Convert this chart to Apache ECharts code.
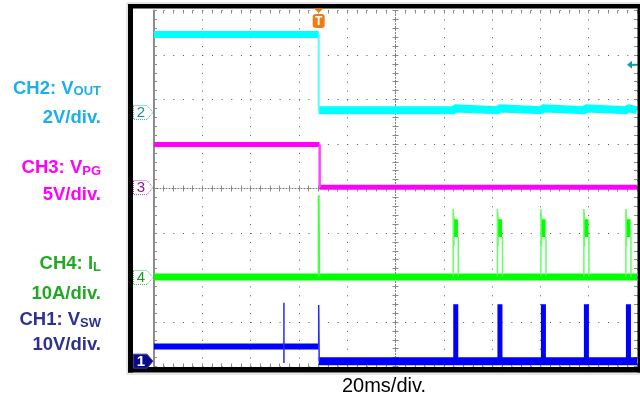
<!DOCTYPE html>
<html><head><meta charset="utf-8">
<script src="https://cdn.jsdelivr.net/npm/echarts@6/dist/echarts.min.js"></script>
<style>html,body{margin:0;padding:0;background:#fff}#c{width:640px;height:401px}</style>
</head><body><div id="c"></div>
<script>
// ---------- DATA (time in ms from screen centre, 20 ms/div; vertical in divisions from centre) ----------
const timeAxisMs = { min: -100, max: 100, step: 20 };
const vertAxisDiv = { min: -4, max: 4, step: 1 };
const triggerMs = -31.8;
const pulseStartMs = [23.9, 42.2, 60.2, 78.0, 95.4];
const pulseWidthMs = 2.1;

// CH2 VOUT (cyan)
const ch2High = [[-100, 3.46], [triggerMs, 3.46]];
const ch2Low = [[triggerMs, 1.76], [23.9, 1.76], [24.3, 1.8], [25.1, 1.8], [25.5, 1.76],
  [42.2, 1.76], [42.6, 1.8], [43.4, 1.8], [43.8, 1.76], [60.2, 1.76], [60.6, 1.8], [61.4, 1.8], [61.8, 1.76],
  [78.0, 1.76], [78.4, 1.8], [79.2, 1.8], [79.6, 1.76], [95.4, 1.76], [95.8, 1.8], [96.6, 1.8], [97.0, 1.76], [100, 1.76]];
const ch2Edge = [[triggerMs, 3.46], [triggerMs, 1.76]];

// CH3 VPG (magenta)
const ch3High = [[-100, 0.99], [-31.5, 0.99]];
const ch3Low = [[-31.5, 0.03], [100, 0.03]];
const ch3Edge = [[-31.4, 0.99], [-31.4, 0.03]];

// CH4 IL (green)
const ch4Base = [[-100, -1.99], [100, -1.99]];
const ch4TrigSpike = [[triggerMs, -1.99], [triggerMs, -0.15], [triggerMs + 0.2, -1.99]];
const ch4PulseSpikeTop = -0.46;
const ch4PulseBandTop = -0.69;
const ch4PulseBandBottom = -1.09;

// CH1 VSW (blue)
const ch1High = [[-100, -3.55], [triggerMs, -3.55]];
const ch1Low = [[triggerMs, -3.88], [100, -3.88]];
const ch1Spikes = [[[-46.2, -2.57], [-46.2, -3.92]], [[triggerMs, -3.55], [triggerMs, -2.62], [triggerMs + 0.2, -3.88]]];
const ch1PulseTop = -2.60;
const ch1PulseBottom = -3.88;

// channel ground markers and trigger level
const markerNames = ['1', '2', '3', '4'];
const markerLevelsDiv = [-3.88, 1.71, 0.02, -2.0];
const triggerLevelDiv = 2.78;

// ---------- helpers ----------
const GAP = '-';
function joinSegs(list) {
  const out = [];
  list.forEach((pl, i) => { if (i) out.push([pl[0][0], GAP]); pl.forEach(p => out.push(p)); });
  return out;
}
const ch4PulseThin = joinSegs(pulseStartMs.map(s => [[s, -1.99], [s, ch4PulseSpikeTop], [s + 0.3, ch4PulseBandTop], [s + 0.3, -1.3]])
  .concat(pulseStartMs.map(s => [[s + pulseWidthMs, ch4PulseBandBottom], [s + pulseWidthMs, -1.99]])));
const ch4PulseBlock = joinSegs(pulseStartMs.map(s => [[s + 1.15, ch4PulseBandTop], [s + 1.15, ch4PulseBandBottom]]));
const ch1PulseBlock = joinSegs(pulseStartMs.map(s => [[s + pulseWidthMs / 2, ch1PulseTop], [s + pulseWidthMs / 2, ch1PulseBottom]]));

const FONT = "'Liberation Sans', Arial, sans-serif";
const GRID_DOT = '#555';
const TICK = '#8a8a8a';

function xAx(extra) {
  return Object.assign({
    type: 'value', min: timeAxisMs.min, max: timeAxisMs.max, interval: timeAxisMs.step,
    axisLabel: { show: false }, splitLine: { show: false },
    axisTick: { show: true, inside: true, length: 3, lineStyle: { color: TICK } },
    minorTick: { show: true, splitNumber: 5, length: 3, lineStyle: { color: TICK } },
    axisLine: { show: false, onZero: false }
  }, extra);
}
function yAx(extra) {
  return Object.assign({
    type: 'value', min: vertAxisDiv.min, max: vertAxisDiv.max, interval: vertAxisDiv.step,
    axisLabel: { show: false }, splitLine: { show: false },
    axisTick: { show: true, inside: true, length: 3, lineStyle: { color: TICK } },
    minorTick: { show: true, splitNumber: 5, length: 3, lineStyle: { color: TICK } },
    axisLine: { show: false, onZero: false }
  }, extra);
}
function line(data, color, width, z) {
  return { type: 'line', data: data, showSymbol: false, symbol: 'none', silent: true, animation: false,
    connectNulls: false, lineStyle: { color: color, width: width, cap: 'butt', join: 'miter' }, z: z || 3 };
}

const chart = echarts.init(document.getElementById('c'), null, { renderer: 'canvas', width: 640, height: 401 });
chart.setOption({
  animation: false,
  backgroundColor: '#ffffff',
  grid: { left: 154, top: 10.5, width: 483, height: 356, show: false },
  xAxis: [
    xAx({ position: 'bottom', splitLine: { show: true, lineStyle: { color: GRID_DOT, width: 1, type: [1, 7.9] } } }),
    xAx({ position: 'top' }),
    xAx({ position: 'bottom', axisLine: { show: true, onZero: true, onZeroAxisIndex: 0, lineStyle: { color: '#777', width: 1, type: [1, 2] } } }),
    xAx({ position: 'bottom', axisTick: { show: true, inside: false, length: 3, lineStyle: { color: TICK } }, axisLine: { show: false, onZero: true, onZeroAxisIndex: 0 } })
  ],
  yAxis: [
    yAx({ position: 'left', axisLine: { show: true, onZero: false, lineStyle: { color: '#8c8c8c', width: 2 } },
      splitLine: { show: true, lineStyle: { color: GRID_DOT, width: 1, type: [1, 8.66] } } }),
    yAx({ position: 'right' }),
    yAx({ position: 'left', axisLine: { show: true, onZero: true, onZeroAxisIndex: 0, lineStyle: { color: '#777', width: 1, type: [1, 2] } } }),
    yAx({ position: 'left', axisTick: { show: true, inside: false, length: 3, lineStyle: { color: TICK } }, axisLine: { show: false, onZero: true, onZeroAxisIndex: 0 } })
  ],
  series: [
    line(ch1High, '#0000ff', 6),
    line(ch1Low, '#0000ff', 8),
    line(joinSegs(ch1Spikes), '#2a2aff', 1.5),
    line(ch1PulseBlock, '#0000ff', 5),
    line(ch4Base, '#00ff00', 7),
    line(ch4TrigSpike, '#44ff44', 2),
    line(ch4PulseThin, '#66ff66', 1.5),
    line(ch4PulseBlock, '#00ff00', 3.8),
    line(ch3High, '#ff00ff', 5),
    line(ch3Low, '#ff00ff', 5),
    line(ch3Edge, '#ff44ff', 2.5),
    line(ch2High, '#00ffff', 7),
    line(ch2Low, '#00ffff', 8),
    line(ch2Edge, '#55ffff', 2)
  ]
});

const px = t => chart.convertToPixel({ xAxisIndex: 0 }, t);
const py = v => chart.convertToPixel({ yAxisIndex: 0 }, v);

const g = [];
// scope frame
g.push({ type: 'rect', shape: { x: 127, y: 3, width: 514, height: 371 }, style: { fill: 'none', stroke: '#cccccc', lineWidth: 1 }, z: 99 });
g.push({ type: 'rect', shape: { x: 128, y: 4, width: 5, height: 368.5 }, style: { fill: '#000' }, z: 100 });
g.push({ type: 'rect', shape: { x: 128, y: 4, width: 512, height: 4.5 }, style: { fill: '#000' }, z: 100 });
g.push({ type: 'rect', shape: { x: 128, y: 367, width: 512, height: 5.5 }, style: { fill: '#000' }, z: 100 });
g.push({ type: 'rect', shape: { x: 637.5, y: 4, width: 3, height: 368.5 }, style: { fill: '#000' }, z: 100 });

// channel markers
const markerStyles = {
  '1': { fill: '#0a0a8a', stroke: '#3a3ab0', text: '#ffffff', dash: null },
  '2': { fill: '#ffffff', stroke: '#2aa7a7', text: '#1f8f8f', dash: [1, 1] },
  '3': { fill: '#ffffff', stroke: '#b040b0', text: '#8a1a8a', dash: [1, 1] },
  '4': { fill: '#ffffff', stroke: '#3fbf3f', text: '#229922', dash: [1, 1] }
};
markerNames.forEach((n, i) => {
  const y = py(markerLevelsDiv[i]);
  const s = markerStyles[n];
  g.push({ type: 'polygon', shape: { points: [[133.5, y - 7], [147, y - 7], [153, y], [147, y + 7], [133.5, y + 7]] },
    style: { fill: s.fill, stroke: s.stroke, lineWidth: 1, lineDash: s.dash }, z: 101 });
  g.push({ type: 'text', x: 141, y: y + 0.5, style: { text: n, fill: s.text, font: (n === '1' ? 'bold ' : '') + '15px ' + FONT, align: 'center', verticalAlign: 'middle' }, z: 102 });
});

// trigger position marker
const tx = px(triggerMs);
g.push({ type: 'polygon', shape: { points: [[tx - 4.5, 8.5], [tx + 4.5, 8.5], [tx, 13]] }, style: { fill: '#f07c14' }, z: 103 });
g.push({ type: 'rect', shape: { x: tx - 6, y: 14, width: 12, height: 14, r: 3 }, style: { fill: '#f07c14' }, z: 103 });
g.push({ type: 'text', x: tx, y: 21.5, style: { text: 'T', fill: '#ffffff', font: 'bold 12px ' + FONT, align: 'center', verticalAlign: 'middle' }, z: 104 });

// trigger level arrow (right)
const ty = py(triggerLevelDiv);
g.push({ type: 'polygon', shape: { points: [[627, ty], [632, ty - 4], [632, ty + 4]] }, style: { fill: '#1a9a9a' }, z: 103 });
g.push({ type: 'rect', shape: { x: 631, y: ty - 1, width: 6, height: 2 }, style: { fill: '#1a9a9a' }, z: 103 });

// channel labels
function lbl(main, sub, color, y) {
  const rich = {
    m: { fontSize: 18.5, fontWeight: 'bold', fontFamily: FONT, fill: color },
    s: { fontSize: 13, fontWeight: 'bold', fontFamily: FONT, fill: color, verticalAlign: 'bottom' }
  };
  const text = '{m|' + main + '}' + (sub ? '{s|' + sub + '}' : '');
  g.push({ type: 'text', x: 101, y: y, style: { text: text, rich: rich, align: 'right', verticalAlign: 'middle' }, z: 105 });
}
const cCH2 = '#1bb0ea', cCH3 = '#ff00ff', cCH4 = '#22a822', cCH1 = '#2e3192';
lbl('CH2: V', 'OUT', cCH2, 88.5);
lbl('2V/div.', null, cCH2, 117.5);
lbl('CH3: V', 'PG', cCH3, 168);
lbl('5V/div.', null, cCH3, 194.5);
lbl('CH4: I', 'L', cCH4, 264);
lbl('10A/div.', null, cCH4, 293.5);
lbl('CH1: V', 'SW', cCH1, 320);
lbl('10V/div.', null, cCH1, 344.5);

g.push({ type: 'text', x: 384, y: 386.5, style: { text: '20ms/div.', fill: '#000', font: '20px ' + FONT, align: 'center', verticalAlign: 'middle' }, z: 105 });

chart.setOption({ graphic: g });
</script>
</body></html>
